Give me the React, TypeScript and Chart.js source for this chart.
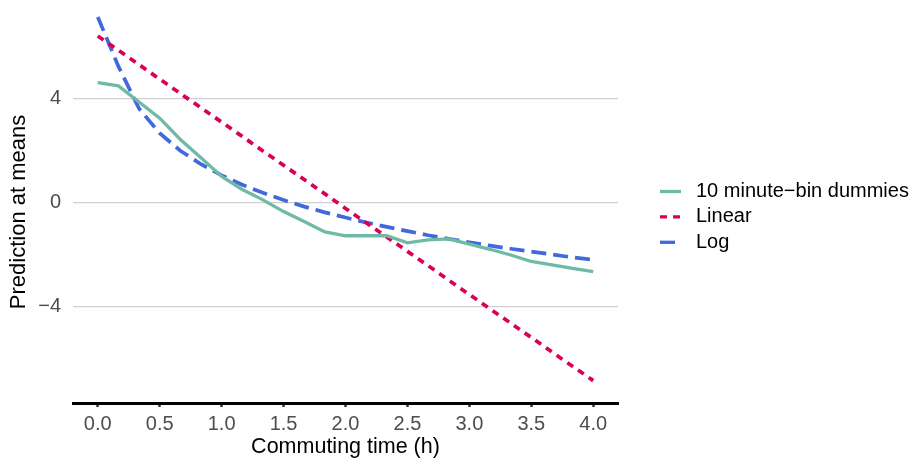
import React, { useEffect, useRef } from "react";
import { Chart, registerables } from "chart.js";

Chart.register(...registerables);

// Commuting time in hours (10-minute steps)
const hours = [
  0, 0.1667, 0.3333, 0.5, 0.6667, 0.8333, 1.0, 1.1667, 1.3333, 1.5, 1.6667, 1.8333,
  2.0, 2.1667, 2.3333, 2.5, 2.6667, 2.8333, 3.0, 3.1667, 3.3333, 3.5, 3.6667, 3.8333, 4.0,
];

const binDummies = [
  4.61, 4.48, 3.86, 3.24, 2.42, 1.72, 1.0, 0.5, 0.1, -0.35, -0.73, -1.13,
  -1.28, -1.28, -1.28, -1.55, -1.44, -1.4, -1.6, -1.8, -2.02, -2.27, -2.4, -2.53, -2.66,
];

const linearFit = [
  6.4, 5.85, 5.3, 4.74, 4.19, 3.64, 3.09, 2.54, 1.98, 1.43, 0.88, 0.33,
  -0.23, -0.78, -1.33, -1.88, -2.43, -2.99, -3.54, -4.09, -4.64, -5.19, -5.75, -6.3, -6.85,
];

const logFit = [
  7.13, 5.23, 3.61, 2.66, 1.99, 1.47, 1.04, 0.68, 0.37, 0.09, -0.16, -0.38,
  -0.58, -0.77, -0.94, -1.1, -1.26, -1.4, -1.53, -1.66, -1.78, -1.89, -2.0, -2.11, -2.2,
];

const seriesLabels = ["10 minute\u2212bin dummies", "Linear", "Log"];
const xTicks = [0, 0.5, 1, 1.5, 2, 2.5, 3, 3.5, 4];
const yTicks = [-4, 0, 4];
const xTitle = "Commuting time (h)";
const yTitle = "Prediction at means";

const COLORS = ["#6fbaa6", "#d9005a", "#4169dc"];
const DASHES: number[][] = [[], [7, 6], [15, 7]];
const WIDTHS = [3.3, 3.7, 3.7];
const FONT = "'Liberation Sans', Arial, Helvetica, sans-serif";

const annotationPlugin = {
  id: "customLegendAndTitle",
  afterDraw(chart: any) {
    const ctx = chart.ctx;
    ctx.save();
    // legend
    chart.data.datasets.forEach((ds: any, i: number) => {
      const y = 191.5 + i * 25.4;
      ctx.beginPath();
      ctx.setLineDash(ds.borderDash || []);
      ctx.lineWidth = 3.3;
      ctx.strokeStyle = ds.borderColor;
      ctx.moveTo(660, y);
      ctx.lineTo(681, y);
      ctx.stroke();
      ctx.setLineDash([]);
      ctx.fillStyle = "#000000";
      ctx.font = `20px ${FONT}`;
      ctx.textBaseline = "middle";
      ctx.textAlign = "left";
      ctx.fillText(ds.label, 696, y);
    });
    // y-axis title
    ctx.translate(18.5, 212);
    ctx.rotate(-Math.PI / 2);
    ctx.fillStyle = "#000000";
    ctx.font = `22px ${FONT}`;
    ctx.textAlign = "center";
    ctx.textBaseline = "middle";
    ctx.fillText(yTitle, 0, 0);
    ctx.restore();
  },
};

export default function App() {
  const canvasRef = useRef<HTMLCanvasElement | null>(null);

  useEffect(() => {
    if (!canvasRef.current) return;
    Chart.defaults.font.family = FONT;
    const seriesValues = [binDummies, linearFit, logFit];
    const chart = new Chart(canvasRef.current, {
      type: "line",
      data: {
        datasets: seriesValues.map((vals, i) => ({
          label: seriesLabels[i],
          data: hours.map((h, k) => ({ x: h, y: vals[k] })),
          borderColor: COLORS[i],
          backgroundColor: COLORS[i],
          borderWidth: WIDTHS[i],
          borderDash: DASHES[i],
          pointRadius: 0,
          fill: false,
          tension: 0,
        })),
      },
      options: {
        animation: false,
        responsive: false,
        devicePixelRatio: 1,
        layout: { padding: { left: 0, right: 294, top: 4, bottom: 0 } },
        plugins: {
          legend: { display: false },
          tooltip: { enabled: false },
        },
        scales: {
          x: {
            type: "linear",
            min: -0.2,
            max: 4.2,
            afterBuildTicks: (scale: any) => {
              scale.ticks = xTicks.map((v) => ({ value: v }));
            },
            afterFit: (scale: any) => {
              scale.height = 55;
              scale.paddingLeft = 0;
              scale.paddingRight = 0;
            },
            border: { display: true, color: "#000000", width: 3 },
            grid: {
              drawOnChartArea: false,
              drawTicks: true,
              tickLength: 4,
              tickWidth: 2.5,
              tickColor: "#333333",
            },
            ticks: {
              color: "#4d4d4d",
              font: { size: 20 },
              padding: 5,
              maxRotation: 0,
              autoSkip: false,
              callback: (v: any) => Number(v).toFixed(1),
            },
            title: {
              display: true,
              text: xTitle,
              color: "#000000",
              font: { size: 21.5, lineHeight: 1 },
              padding: { top: 0, bottom: 0 },
            },
          },
          y: {
            type: "linear",
            min: -7.71,
            max: 7.63,
            afterBuildTicks: (scale: any) => {
              scale.ticks = yTicks.map((v) => ({ value: v }));
            },
            afterFit: (scale: any) => {
              scale.width = 73;
              scale.paddingTop = 0;
              scale.paddingBottom = 0;
            },
            border: { display: false },
            grid: {
              color: "#d0d0d0",
              lineWidth: 1.2,
              drawTicks: false,
            },
            ticks: {
              color: "#4d4d4d",
              font: { size: 20 },
              padding: 12,
              callback: (v: any) => (Number(v) < 0 ? "\u2212" + Math.abs(Number(v)) : String(v)),
            },
            title: { display: false },
          },
        },
      },
      plugins: [annotationPlugin],
    });
    return () => chart.destroy();
  }, []);

  return (
    <div style={{ position: "fixed", left: 0, top: 0, width: 912, height: 458, background: "#ffffff" }}>
      <canvas ref={canvasRef} width={912} height={458} style={{ width: 912, height: 458, display: "block" }} />
    </div>
  );
}
